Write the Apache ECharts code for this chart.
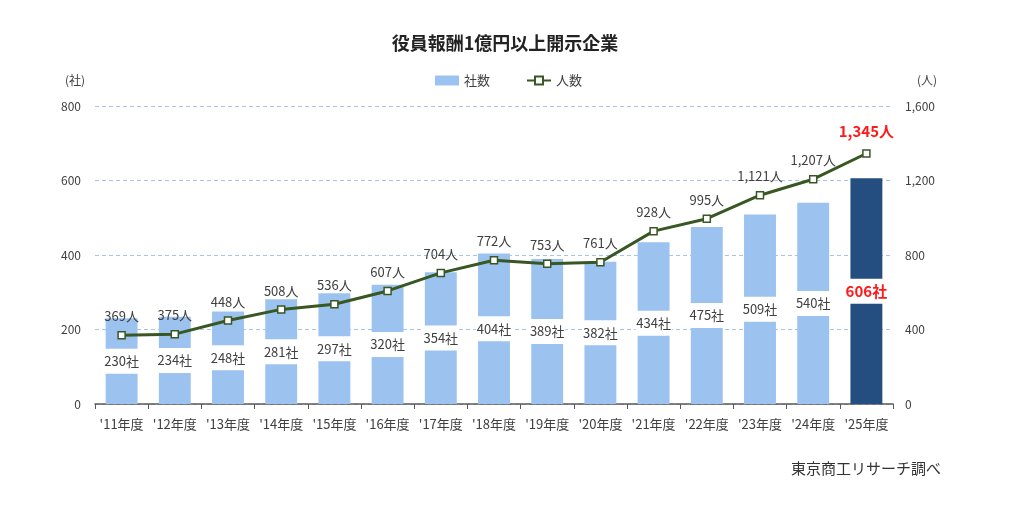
<!DOCTYPE html>
<html>
<head>
<meta charset="utf-8">
<script src="https://cdn.jsdelivr.net/npm/echarts@6/dist/echarts.min.js"></script>
<style>
  html, body { margin: 0; padding: 0; background: #fff; }
  #chart { width: 1024px; height: 507px; }
</style>
</head>
<body>
<div id="chart"></div>
<script>
var years = ["'11年度", "'12年度", "'13年度", "'14年度", "'15年度", "'16年度", "'17年度", "'18年度",
  "'19年度", "'20年度", "'21年度", "'22年度", "'23年度", "'24年度", "'25年度"];
var companies = [230, 234, 248, 281, 297, 320, 354, 404, 389, 382, 434, 475, 509, 540, 606];
var people = [369, 375, 448, 508, 536, 607, 704, 772, 753, 761, 928, 995, 1121, 1207, 1345];

var font = '"Noto Sans CJK JP", "Noto Sans", sans-serif';
var last = years.length - 1;

function fmt(n) {
  return n.toString().replace(/\B(?=(\d{3})+(?!\d))/g, ',');
}

var barData = companies.map(function (v, i) {
  var d = { value: v };
  if (i === last) {
    d.itemStyle = { color: '#244e80' };
    d.label = { color: '#ff1a1a', fontWeight: 'bold', fontSize: 15 };
  }
  return d;
});

var lineData = people.map(function (v, i) {
  var d = { value: v };
  if (i === last) {
    d.label = { color: '#ff1a1a', fontWeight: 'bold', fontSize: 15, distance: 10 };
  }
  return d;
});

var myChart = echarts.init(document.getElementById('chart'));
var option = {
  animation: false,
  textStyle: { fontFamily: font },
  title: [{
    text: '役員報酬1億円以上開示企業',
    left: 500,
    top: 29,
    textAlign: 'center',
    textStyle: { fontSize: 18, fontWeight: 'bold', color: '#222', fontFamily: font }
  }, {
    text: '東京商工リサーチ調べ',
    right: 78,
    top: 456,
    textStyle: { fontSize: 15, fontWeight: 'normal', color: '#333', fontFamily: font }
  }],
  legend: {
    left: 430,
    top: 69,
    itemGap: 36,
    itemWidth: 24,
    itemHeight: 10,
    textStyle: { fontSize: 13, color: '#404040', fontFamily: font },
    data: [
      { name: '社数', icon: 'rect' },
      { name: '人数' }
    ]
  },
  grid: { left: 95, right: 131, top: 106, bottom: 103 },
  xAxis: {
    type: 'category',
    data: years,
    axisLine: { lineStyle: { color: '#595959', width: 1.5 } },
    axisTick: { show: true, length: 5, lineStyle: { color: '#595959' } },
    axisLabel: { interval: 0, fontSize: 13, color: '#404040', margin: 14, fontFamily: font }
  },
  yAxis: [{
    type: 'value',
    name: '(社)',
    nameLocation: 'end',
    nameGap: 20,
    nameTextStyle: { fontSize: 12, color: '#404040', align: 'right', padding: [0, 10, 0, 0] },
    min: 0, max: 800, interval: 200,
    axisLine: { show: false },
    axisTick: { show: false },
    axisLabel: { fontSize: 12, color: '#404040', margin: 14 },
    splitLine: { lineStyle: { color: '#a9c4e4', type: [4, 3], width: 1 } }
  }, {
    type: 'value',
    name: '(人)',
    nameLocation: 'end',
    nameGap: 20,
    nameTextStyle: { fontSize: 12, color: '#404040', align: 'left', padding: [0, 0, 0, 24] },
    min: 0, max: 1600, interval: 400,
    axisLine: { show: false },
    axisTick: { show: false },
    axisLabel: { fontSize: 12, color: '#404040', margin: 12, formatter: function (v) { return fmt(v); } },
    splitLine: { show: false }
  }],
  series: [{
    name: '社数',
    type: 'bar',
    data: barData,
    barWidth: '60%',
    itemStyle: { color: '#9cc3f0' },
    label: {
      show: true,
      position: 'inside',
      formatter: '{c}社',
      fontSize: 13,
      color: '#404040',
      backgroundColor: '#fff',
      width: 36,
      align: 'center',
      lineHeight: 25,
      padding: [0, 0]
    },
    z: 2
  }, {
    name: '人数',
    type: 'line',
    yAxisIndex: 1,
    data: lineData,
    symbol: 'rect',
    symbolSize: 7,
    lineStyle: { color: '#385723', width: 3 },
    itemStyle: { color: '#fff', borderColor: '#385723', borderWidth: 1.5 },
    label: {
      show: true,
      position: 'top',
      distance: 8,
      fontSize: 13,
      color: '#404040',
      formatter: function (p) { return fmt(p.value) + '人'; }
    },
    z: 3
  }]
};
myChart.setOption(option);
</script>
</body>
</html>
